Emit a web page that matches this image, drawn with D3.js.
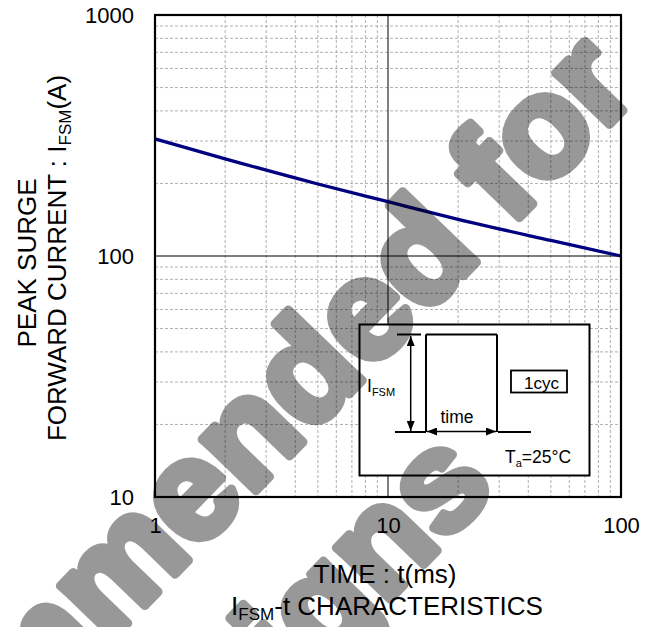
<!DOCTYPE html>
<html><head><meta charset="utf-8">
<script src="https://cdn.jsdelivr.net/npm/d3@7"></script>
<style>
html,body{margin:0;padding:0;background:#fff;}
svg text{font-family:"Liberation Sans",Arial,sans-serif;}
</style></head>
<body>
<svg id="c" width="651" height="627"></svg>
<script>
// ---- data ----
const timeMs = [1, 2, 5, 10, 20, 50, 100];
const ifsmA  = [306, 253, 199, 168, 142, 116, 100];
const xTickValues = [1, 10, 100];
const yTickValues = [10, 100, 1000];
const xTickLabels = ["1", "10", "100"];
const yTickLabels = ["10", "100", "1000"];
const watermarkLines = ["Not recommended for", "new designs"];

const svg = d3.select("#c");
const L = 155, R = 621, T = 15, B = 497;
const x = d3.scaleLog().domain([1, 100]).range([L, R]);
const y = d3.scaleLog().domain([10, 1000]).range([B, T]);

// minor grid
const minorX = [], minorY = [];
[1, 10].forEach(d => { for (let k = 2; k <= 9; k++) minorX.push(d * k); });
[10, 100].forEach(d => { for (let k = 2; k <= 9; k++) minorY.push(d * k); });

const grid = svg.append("g");
grid.selectAll(".mx").data(minorX).join("line")
  .attr("x1", d => x(d)).attr("x2", d => x(d)).attr("y1", T).attr("y2", B)
  .attr("stroke", "#b0b0b0").attr("stroke-width", 1).attr("stroke-dasharray", "3,2");
grid.selectAll(".my").data(minorY).join("line")
  .attr("y1", d => y(d)).attr("y2", d => y(d)).attr("x1", L).attr("x2", R)
  .attr("stroke", "#b0b0b0").attr("stroke-width", 1).attr("stroke-dasharray", "3,2");
// major grid
grid.selectAll(".Mx").data([10]).join("line")
  .attr("x1", d => x(d)).attr("x2", d => x(d)).attr("y1", T).attr("y2", B)
  .attr("stroke", "#000").attr("stroke-width", 1);
grid.selectAll(".My").data([100]).join("line")
  .attr("y1", d => y(d)).attr("y2", d => y(d)).attr("x1", L).attr("x2", R)
  .attr("stroke", "#000").attr("stroke-width", 1);

// inset box
const ins = svg.append("g");
ins.append("rect").attr("x", 359.5).attr("y", 324.5).attr("width", 230).attr("height", 151)
  .attr("fill", "#fff").attr("stroke", "#000").attr("stroke-width", 2);

// curve
const line = d3.line().x((d, i) => x(timeMs[i])).y(d => y(d)).curve(d3.curveMonotoneX);
svg.append("path").datum(ifsmA).attr("d", line)
  .attr("fill", "none").attr("stroke", "#000080").attr("stroke-width", 3.3);

// frame
svg.append("rect").attr("x", L).attr("y", T).attr("width", R - L).attr("height", B - T)
  .attr("fill", "none").attr("stroke", "#000").attr("stroke-width", 2.2);

// axes (labels only)
const ax = svg.append("g").attr("transform", `translate(0,${B})`)
  .call(d3.axisBottom(x).tickValues(xTickValues).tickFormat((d, i) => xTickLabels[i]).tickSize(0).tickPadding(20));
const ay = svg.append("g").attr("transform", `translate(${L},0)`)
  .call(d3.axisLeft(y).tickValues(yTickValues).tickFormat((d, i) => yTickLabels[i]).tickSize(0).tickPadding(21));
[ax, ay].forEach(a => {
  a.select(".domain").remove();
  a.selectAll("text").attr("font-size", 22).attr("fill", "#000")
    .attr("font-family", "Liberation Sans, Arial, sans-serif");
});

// inset drawing
const defs = svg.append("defs");
defs.append("marker").attr("id", "ah").attr("viewBox", "0 0 10 8")
  .attr("refX", 10).attr("refY", 4).attr("markerWidth", 10).attr("markerHeight", 8)
  .attr("markerUnits", "userSpaceOnUse").attr("orient", "auto-start-reverse")
  .append("path").attr("d", "M0,0L10,4L0,8Z").attr("fill", "#000");
const sw = 2;
const segs = [
  [397, 334.5, 421, 334.5],
  [426, 334.5, 497, 334.5],
  [426, 334.5, 426, 432],
  [497, 334.5, 497, 432],
  [395, 432, 426, 432],
  [498, 432, 531, 432]
];
ins.selectAll(".seg").data(segs).join("line")
  .attr("x1", d => d[0]).attr("y1", d => d[1]).attr("x2", d => d[2]).attr("y2", d => d[3])
  .attr("stroke", "#000").attr("stroke-width", sw);
ins.append("line").attr("x1", 410.7).attr("y1", 336).attr("x2", 410.7).attr("y2", 431)
  .attr("stroke", "#000").attr("stroke-width", 1.5)
  .attr("marker-start", "url(#ah)").attr("marker-end", "url(#ah)");
ins.append("line").attr("x1", 427).attr("y1", 431.5).attr("x2", 496).attr("y2", 431.5)
  .attr("stroke", "#000").attr("stroke-width", 1.5)
  .attr("marker-start", "url(#ah)").attr("marker-end", "url(#ah)");
ins.append("text").attr("x", 457).attr("y", 423).attr("text-anchor", "middle")
  .attr("font-size", 17.5).text("time");
const tI = ins.append("text").attr("x", 367).attr("y", 392).attr("font-size", 17.5);
tI.append("tspan").text("I");
tI.append("tspan").attr("font-size", 11).attr("dy", 4).text("FSM");
ins.append("rect").attr("x", 511).attr("y", 370.5).attr("width", 56).attr("height", 22)
  .attr("fill", "none").attr("stroke", "#000").attr("stroke-width", 1.8);
ins.append("text").attr("x", 524).attr("y", 389).attr("font-size", 17).text("1cyc");
const tT = ins.append("text").attr("x", 505).attr("y", 463).attr("font-size", 17.5);
tT.append("tspan").text("T");
tT.append("tspan").attr("font-size", 11).attr("dy", 4).text("a");
tT.append("tspan").attr("dy", -4).text("=25°C");

// axis titles
svg.append("text").attr("transform", "translate(36,263) rotate(-90)")
  .attr("text-anchor", "middle").attr("font-size", 26).text("PEAK SURGE");
const yt2 = svg.append("text").attr("transform", "translate(66,258) rotate(-90)")
  .attr("text-anchor", "middle").attr("font-size", 26);
yt2.append("tspan").text("FORWARD CURRENT : I");
yt2.append("tspan").attr("font-size", 17).attr("dy", 5).text("FSM");
yt2.append("tspan").attr("dy", -5).text("(A)");

svg.append("text").attr("x", 385).attr("y", 583).attr("text-anchor", "middle")
  .attr("font-size", 26).text("TIME : t(ms)");
const xt2 = svg.append("text").attr("x", 387).attr("y", 615).attr("text-anchor", "middle")
  .attr("font-size", 26);
xt2.append("tspan").text("I");
xt2.append("tspan").attr("font-size", 17).attr("dy", 5).text("FSM");
xt2.append("tspan").attr("dy", -5).text("-t CHARACTERISTICS");

// watermark overlay
const wm = svg.append("g").attr("transform", "rotate(-46)").attr("opacity", 0.4);
wm.selectAll("text").data(watermarkLines).join("text")
  .attr("x", (d, i) => i === 0 ? 379 : -5)
  .attr("y", (d, i) => i === 0 ? 525 : 697)
  .attr("text-anchor", "end")
  .attr("font-family", "DejaVu Sans, sans-serif").attr("font-weight", "bold")
  .attr("font-size", 141).attr("fill", "#000")
  .attr("stroke", "#000").attr("stroke-width", 9).attr("stroke-linejoin", "round")
  .text(d => d);
</script>
</body></html>
